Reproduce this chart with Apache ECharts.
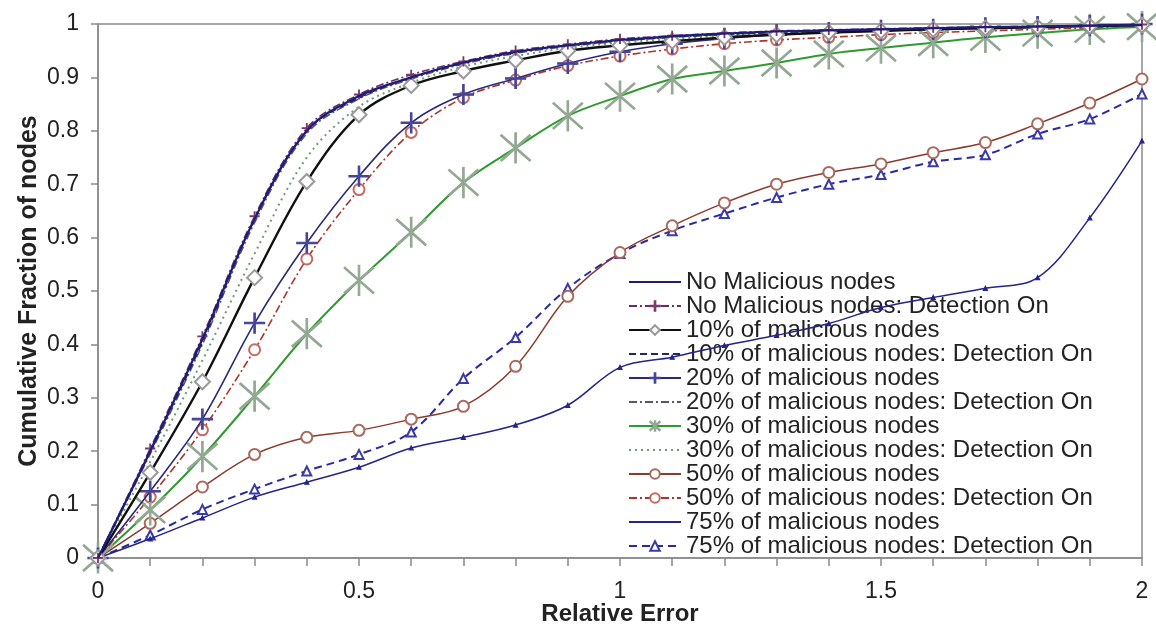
<!DOCTYPE html>
<html>
<head>
<meta charset="utf-8">
<script src="https://cdn.jsdelivr.net/npm/echarts@6/dist/echarts.min.js"></script>
<style>
html,body{margin:0;padding:0;background:#fff;}
#chart{width:1156px;height:627px;}
</style>
</head>
<body>
<div id="chart"></div>
<script>
// ---------- data ----------
const relErr = [0,0.1,0.2,0.3,0.4,0.5,0.6,0.7,0.8,0.9,1.0,1.1,1.2,1.3,1.4,1.5,1.6,1.7,1.8,1.9,2.0];
const xTicks = [0, 0.5, 1, 1.5, 2];
const yTicks = [0,0.1,0.2,0.3,0.4,0.5,0.6,0.7,0.8,0.9,1];

const seriesNames = [
  'No Malicious nodes',
  'No Malicious nodes: Detection On',
  '10% of malicious nodes',
  '10% of malicious nodes: Detection On',
  '20% of malicious nodes',
  '20% of malicious nodes: Detection On',
  '30% of malicious nodes',
  '30% of malicious nodes: Detection On',
  '50% of malicious nodes',
  '50% of malicious nodes: Detection On',
  '75% of malicious nodes',
  '75% of malicious nodes: Detection On'
];

const noMal      = [0,0.200,0.410,0.635,0.800,0.865,0.900,0.928,0.948,0.960,0.970,0.977,0.982,0.986,0.988,0.990,0.992,0.994,0.995,0.997,0.998];
const noMalDet   = [0,0.205,0.415,0.640,0.805,0.868,0.905,0.930,0.950,0.962,0.972,0.978,0.983,0.987,0.989,0.991,0.993,0.994,0.996,0.997,0.999];
const ten        = [0,0.160,0.330,0.525,0.705,0.830,0.885,0.912,0.932,0.950,0.960,0.968,0.975,0.980,0.984,0.987,0.990,0.992,0.994,0.996,0.998];
const tenDet     = [0,0.200,0.405,0.635,0.800,0.862,0.900,0.927,0.947,0.960,0.969,0.976,0.981,0.985,0.988,0.990,0.992,0.994,0.995,0.997,0.998];
const twenty     = [0,0.125,0.260,0.440,0.590,0.715,0.815,0.868,0.898,0.926,0.948,0.963,0.973,0.980,0.984,0.988,0.990,0.993,0.995,0.997,1.000];
const twentyDet  = [0,0.195,0.400,0.628,0.795,0.860,0.897,0.925,0.945,0.958,0.968,0.975,0.980,0.984,0.987,0.990,0.992,0.993,0.995,0.997,0.998];
const thirty     = [0,0.090,0.190,0.303,0.420,0.520,0.610,0.703,0.768,0.828,0.865,0.897,0.912,0.927,0.944,0.955,0.965,0.975,0.983,0.990,0.995];
const thirtyDet  = [0,0.180,0.370,0.570,0.750,0.845,0.890,0.920,0.940,0.955,0.965,0.972,0.978,0.983,0.986,0.989,0.991,0.993,0.995,0.997,0.998];
const fifty      = [0,0.065,0.133,0.194,0.226,0.239,0.260,0.284,0.359,0.490,0.572,0.622,0.665,0.700,0.722,0.738,0.759,0.778,0.813,0.852,0.897];
const fiftyDet   = [0,0.114,0.240,0.390,0.560,0.690,0.797,0.862,0.895,0.922,0.940,0.953,0.963,0.970,0.975,0.980,0.984,0.987,0.990,0.993,0.997];
const seventy5   = [0,0.036,0.075,0.114,0.142,0.170,0.206,0.226,0.249,0.286,0.357,0.376,0.398,0.417,0.439,0.469,0.488,0.505,0.525,0.637,0.781];
const seventy5Det= [0,0.043,0.091,0.129,0.163,0.194,0.236,0.336,0.413,0.505,0.570,0.613,0.645,0.675,0.700,0.718,0.742,0.755,0.794,0.822,0.869];

const seriesValues = [noMal, noMalDet, ten, tenDet, twenty, twentyDet, thirty, thirtyDet, fifty, fiftyDet, seventy5, seventy5Det];

// ---------- marker shapes ----------
function bar(x1,y1,x2,y2,w){
  const dx=x2-x1, dy=y2-y1, L=Math.sqrt(dx*dx+dy*dy);
  const nx=-dy/L*w, ny=dx/L*w;
  const f=v=>v.toFixed(3);
  return 'M'+f(x1+nx)+' '+f(y1+ny)+' L'+f(x2+nx)+' '+f(y2+ny)+' L'+f(x2-nx)+' '+f(y2-ny)+' L'+f(x1-nx)+' '+f(y1-ny)+' Z ';
}
const plusPath = 'path://' + bar(-1,0,1,0,0.07) + bar(0,-1,0,1,0.07);
const starPath = 'path://' + bar(0,-1,0,1,0.05) + bar(-1,-0.85,1,0.85,0.05) + bar(-1,0.85,1,-0.85,0.05);

const styles = [
  {color:'#1d1d78', width:2.2, type:'solid'},
  {color:'#6b2a6e', width:1.6, type:[8,3,2,3], symbol:plusPath, symbolSize:9, mColor:'#7a3a6a'},
  {color:'#111111', width:2.4, type:'solid', symbol:'emptyDiamond', symbolSize:15, mColor:'#9a9a9a'},
  {color:'#25256e', width:2, type:[7,4]},
  {color:'#2a2a78', width:1.6, type:'solid', symbol:plusPath, symbolSize:20, mColor:'#44449a'},
  {color:'#55557a', width:1.6, type:[8,3,2,3]},
  {color:'#2f9a2f', width:2, type:'solid', symbol:starPath, symbolSize:30, mColor:'#93a893'},
  {color:'#6d9e6d', width:2, type:[2,4]},
  {color:'#8a3b2c', width:1.5, type:'solid', symbol:'emptyCircle', symbolSize:11, mColor:'#a86a5e'},
  {color:'#a8352c', width:1.6, type:[8,3,2,3], symbol:'emptyCircle', symbolSize:11, mColor:'#c46a60'},
  {color:'#24248a', width:1.5, type:'solid', symbol:'triangle', symbolSize:4, mColor:'#24248a'},
  {color:'#2a2a9c', width:2, type:[8,5], symbol:'emptyTriangle', symbolSize:9, mColor:'#3a3aa8'}
];
// legend entries drawn without a marker
const legendNoMarker = [0, 3, 5, 7, 10];

const series = seriesNames.map((name,i)=>{
  const st = styles[i];
  const has = !!st.symbol;
  return {
    name: name,
    type: 'line',
    smooth: 0.35,
    data: relErr.map((x,k)=>[x, seriesValues[i][k]]),
    showSymbol: has,
    symbol: has ? st.symbol : 'circle',
    symbolSize: has ? st.symbolSize : 1,
    lineStyle: {color: st.color, width: st.width, type: st.type},
    itemStyle: {color: st.mColor || st.color, borderColor: st.mColor || st.color, borderWidth: 1.2},
    emphasis: {disabled: true},
    z: 2 + (12 - i)
  };
});

const legendData = seriesNames.map((name,i)=>{
  const o = {name: name};
  if (legendNoMarker.includes(i)) o.itemStyle = {opacity: 0};
  return o;
});

const chart = echarts.init(document.getElementById('chart'), null, {renderer:'canvas'});
const fmt = v => String(Math.round(v*10)/10);
chart.setOption({
  animation: false,
  backgroundColor: '#ffffff',
  grid: {left: 98, right: 14, top: 24, bottom: 69, show: true, borderColor: '#8a8a8a', borderWidth: 1.5, backgroundColor: 'transparent', containLabel: false, outerBoundsMode: 'none'},
  legend: {
    data: legendData,
    orient: 'vertical',
    left: 628, top: 270,
    padding: 0,
    itemGap: 0,
    itemWidth: 52,
    itemHeight: 12,
    textStyle: {fontFamily: 'Liberation Sans, Arial, sans-serif', fontSize: 24, color: '#222', lineHeight: 23.2, padding: [0,0,0,0]},
    backgroundColor: 'transparent'
  },
  xAxis: {
    type: 'value', min: 0, max: 2, interval: 0.5,
    name: 'Relative Error', nameLocation: 'middle', nameGap: 44, nameMoveOverlap: false,
    nameTextStyle: {fontFamily: 'Liberation Sans, Arial, sans-serif', fontSize: 24, fontWeight: 'bold', color: '#222'},
    axisLine: {lineStyle: {color: '#8a8a8a', width: 1.5}},
    axisTick: {inside: false, length: 8, lineStyle: {color: '#8a8a8a', width: 1.5}},
    minorTick: {show: true, splitNumber: 5, length: 8, lineStyle: {color: '#8a8a8a', width: 1.5}},
    axisLabel: {fontFamily: 'Liberation Sans, Arial, sans-serif', fontSize: 23, color: '#222', margin: 22, formatter: v => xTicks.includes(Math.round(v*10)/10) ? String(Math.round(v*10)/10) : ''},
    splitLine: {show: false}
  },
  yAxis: {
    type: 'value', min: 0, max: 1, interval: 0.1,
    name: 'Cumulative Fraction of nodes', nameLocation: 'middle', nameGap: 56, nameRotate: 90, nameMoveOverlap: false,
    nameTextStyle: {fontFamily: 'Liberation Sans, Arial, sans-serif', fontSize: 25, fontWeight: 'bold', color: '#222'},
    axisLine: {show: true, lineStyle: {color: '#8a8a8a', width: 1.5}},
    axisTick: {show: true, inside: false, length: 7, lineStyle: {color: '#8a8a8a', width: 1.5}},
    axisLabel: {fontFamily: 'Liberation Sans, Arial, sans-serif', fontSize: 23, color: '#222', margin: 19, formatter: fmt},
    splitLine: {show: false}
  },
  series: series
});
</script>
</body>
</html>
